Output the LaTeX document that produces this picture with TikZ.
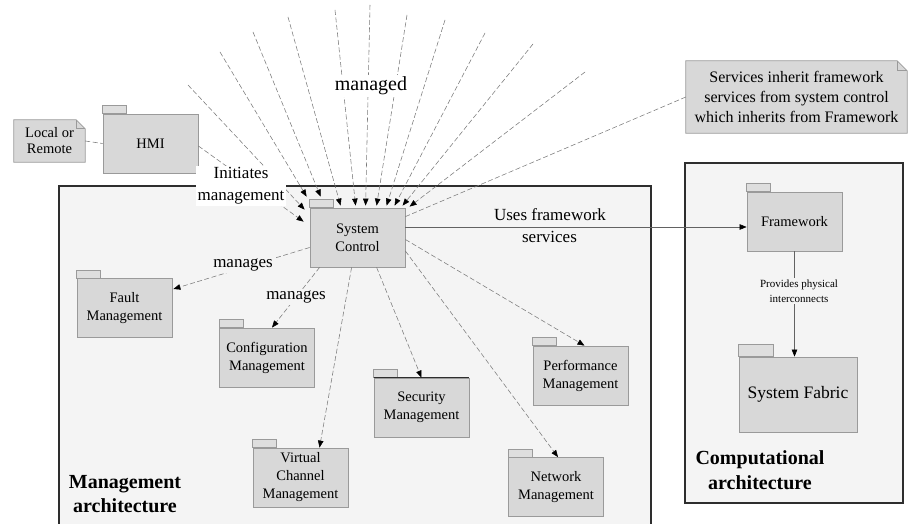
\documentclass[tikz,border=0pt]{standalone}
\usepackage{fontspec}
\setmainfont{Liberation Serif}
\usetikzlibrary{arrows.meta,backgrounds}

\definecolor{pkgfill}{HTML}{D8D8D8}
\definecolor{pkgline}{HTML}{9A9A9A}
\definecolor{tabfill}{HTML}{DEDEDE}
\definecolor{areafill}{HTML}{F4F4F4}
\definecolor{arealine}{HTML}{2E2E2E}
\definecolor{linkgray}{HTML}{7A7A7A}

\tikzset{
  pkg/.style={draw=pkgline, fill=pkgfill, line width=0.8pt, minimum width=95pt,
    minimum height=59pt, inner sep=2pt, align=center,
    font=\fontsize{14.5}{18}\selectfont},
  pkgtab/.style={draw=pkgline, fill=tabfill, line width=0.8pt},
  notetext/.style={inner sep=2pt, align=center, font=\fontsize{14.5}{16}\selectfont},
  notepaper/.style={draw=pkgline, fill=pkgfill, line width=0.8pt},
  area/.style={draw=arealine, fill=areafill, line width=1.2pt},
  dep/.style={draw=linkgray, line width=0.55pt, dash pattern=on 5pt off 2.5pt,
    -{Triangle[length=7pt,width=5.5pt,color=black]}},
  notelink/.style={draw=linkgray, line width=0.55pt, dash pattern=on 5pt off 2.5pt},
  uses/.style={draw=linkgray!80!black, line width=0.6pt,
    -{Triangle[length=7pt,width=5.5pt,color=black]}},
  lbl/.style={inner sep=1.5pt, align=center, font=\fontsize{17}{22}\selectfont},
  smalllbl/.style={inner sep=1.5pt, align=center, font=\fontsize{11}{15}\selectfont},
  areatitle/.style={inner sep=0pt, align=center, font=\bfseries\fontsize{20}{24.5}\selectfont},
}

\begin{document}
\begin{tikzpicture}[x=1pt,y=-1pt]
  \clip (0,0) rectangle (908,524);

  % the two architecture areas
  \draw[area] (59,186) rectangle (651,540);
  \draw[area] (685,163) rectangle (903,503);

  % packages
  \node[pkg] (hmi)  at (150.5,143.5) {HMI};
  \node[pkg] (sc)   at (357.5,237.5) {System\\Control};
  \node[pkg] (fm)   at (124.5,308)   {Fault\\Management};
  \node[pkg] (cm)   at (267,357.5)   {Configuration\\Management};
  \node[pkg] (secm) at (421.5,407.5) {Security\\Management};
  \node[pkg] (vcm)  at (300.5,477.5) {Virtual\\Channel\\Management};
  \node[pkg] (pm)   at (580.5,375.5) {Performance\\Management};
  \node[pkg] (nm)   at (556,487)     {Network\\Management};
  \node[pkg] (fw)   at (794.5,221.5) {Framework};
  \node[pkg, minimum width=118pt, minimum height=75pt,
        font=\fontsize{17.5}{21}\selectfont] (sf) at (798,394.5) {System Fabric};

  % package tabs
  \foreach \n in {hmi,sc,fm,cm,secm,vcm,pm,nm,fw}
    \draw[pkgtab] (\n.north west) rectangle ++(24,-8);
  \draw[pkgtab] (sf.north west) rectangle ++(35,-12);
  \draw[arealine, line width=0.9pt] (secm.north west) -- (secm.north east);

  % notes
  \node[notetext, minimum width=71pt, minimum height=42pt] (loc) at (49.5,141) {Local or\\Remote};
  \node[notetext, minimum width=221pt, minimum height=72pt,
        font=\fontsize{16}{20}\selectfont] (svc) at (796.5,97)
        {Services inherit framework\\services from system control\\which inherits from Framework};
  \begin{scope}[on background layer]
    \fill[white] (0,0) rectangle (908,524);
    \foreach \n/\f in {loc/9pt,svc/10pt} {
      \filldraw[notepaper] (\n.south west) -- (\n.north west)
        -- ([xshift=-\f]\n.north east) -- ([yshift=-\f]\n.north east)
        -- (\n.south east) -- cycle;
      \draw[notepaper, fill=none] ([xshift=-\f]\n.north east)
        -- ([xshift=-\f, yshift=-\f]\n.north east) -- ([yshift=-\f]\n.north east);
    }
  \end{scope}

  % outside elements that are managed through system control
  \foreach \n/\sx/\sy in {m1/188/85, m2/220/52, m3/253/32, m4/288/17, m5/335/10,
      m6/370/5, m7/407/15, m8/445/20, m9/485/33, m10/533/44, m11/585/72}
    \coordinate (\n) at (\sx,\sy);
  \foreach \n/\dx/\dy in {m1/-5/2, m2/-3/-11, m3/11/-11, m4/31/-2, m5/46/-2,
      m6/56/-2, m7/67/-2, m8/77/-2, m9/85/-2, m10/93/-2, m11/100/-1}
    \draw[dep] (\n) -- ([shift={(\dx,\dy)}]sc.north west);

  % connectors
  \draw[dep] ([shift={(0,2.5)}]hmi.east) -- ([shift={(-6,14)}]sc.north west);
  \draw[notelink] (loc.east) -- (hmi.west);
  \draw[notelink] (svc.west) -- ([shift={(0,9)}]sc.north east);

  \draw[dep] ([shift={(0,10)}]sc.west) -- ([shift={(1,-19)}]fm.east);
  \draw[dep] ([shift={(10,0)}]sc.south west) -- ([shift={(5,0)}]cm.north);
  \draw[dep] ([shift={(42,0)}]sc.south west) -- ([shift={(19,0)}]vcm.north);
  \draw[dep] ([shift={(67,0)}]sc.south west) -- (secm.north);
  \draw[dep] ([shift={(0,2)}]sc.east) -- ([shift={(4,0)}]pm.north);
  \draw[dep] ([shift={(0,13.5)}]sc.east) -- ([shift={(2,0)}]nm.north);

  \coordinate (fwsrc) at ([shift={(0,-10.5)}]sc.east);
  \draw[uses] (fwsrc) -- (fwsrc -| fw.west);
  \draw[uses] (fw.south) -- (fw.south |- sf.north);

  % labels
  \node[lbl, fill=white, font=\fontsize{20}{24}\selectfont] (managed) at (371,86) {managed};
  \node[lbl, fill=white] (initiates) at (241,186) {Initiates\\management};
  \node[lbl, fill=areafill] (manages1) at (243,265) {manages};
  \node[lbl, fill=areafill] (manages2) at (296,297) {manages};
  \node[lbl] (uses1) at (550,215) {Uses framework};
  \node[lbl, fill=areafill] (uses2) at (549.5,237) {services};
  \node[smalllbl, fill=areafill] (phys) at (799,291) {Provides physical\\interconnects};

  \node[areatitle] (mgmt) at (125,494) {Management\\architecture};
  \node[areatitle] (comp) at (760,470) {Computational\\architecture};
\end{tikzpicture}
\end{document}
